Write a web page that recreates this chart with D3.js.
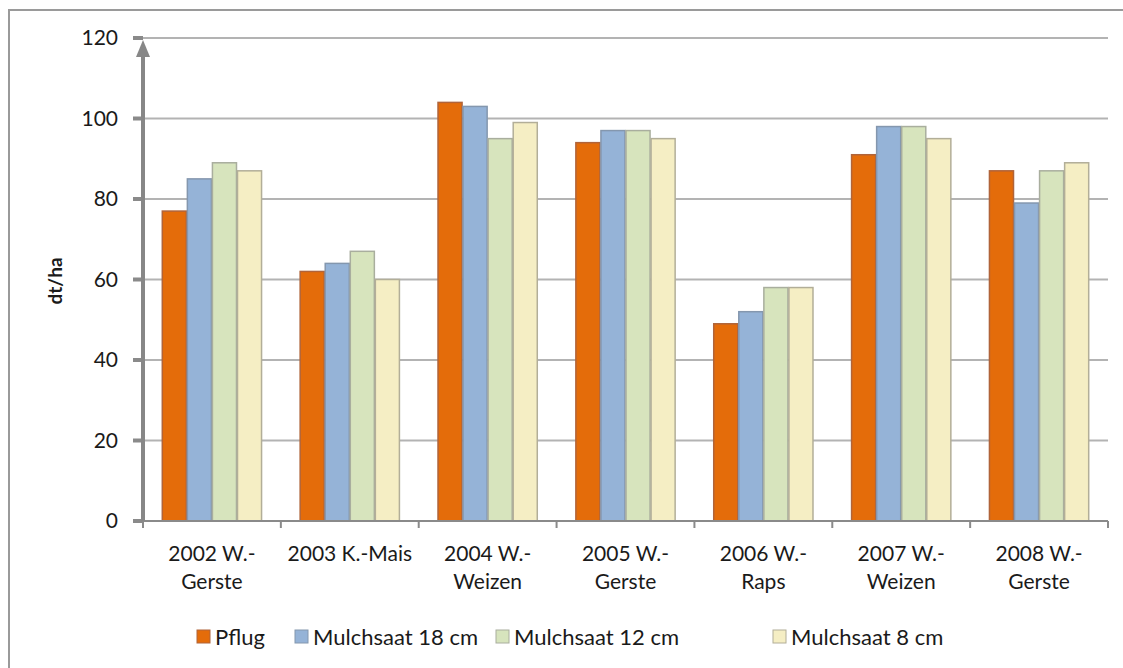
<!DOCTYPE html>
<html>
<head>
<meta charset="utf-8">
<script src="https://cdn.jsdelivr.net/npm/d3@7"></script>
<style>
  body { margin: 0; background: #fff; }
  text { font-family: Lato, "Open Sans", sans-serif; fill: #1a1a1a; }
</style>
</head>
<body>
<div id="chart"></div>
<script>
// data
var categories = [
  ["2002 W.-", "Gerste"],
  ["2003 K.-Mais"],
  ["2004 W.-", "Weizen"],
  ["2005 W.-", "Gerste"],
  ["2006 W.-", "Raps"],
  ["2007 W.-", "Weizen"],
  ["2008 W.-", "Gerste"]
];
var seriesNames = ["Pflug", "Mulchsaat 18 cm", "Mulchsaat 12 cm", "Mulchsaat 8 cm"];
var pflug = [77, 62, 104, 94, 49, 91, 87];
var mulch18 = [85, 64, 103, 97, 52, 98, 79];
var mulch12 = [89, 67, 95, 97, 58, 98, 87];
var mulch8 = [87, 60, 99, 95, 58, 95, 89];
var yTicks = [0, 20, 40, 60, 80, 100, 120];

var colors = ["#E46C0A", "#95B3D7", "#D7E4BD", "#F5EEC4"];
var strokes = ["#B0643A", "#8497AE", "#A9AE9E", "#B2AE98"];

var svgWidth = 1123;
var svgHeight = 668;
var margin = { top: 38, right: 15, bottom: 147, left: 143 };
var width = svgWidth - margin.left - margin.right;
var height = svgHeight - margin.top - margin.bottom;

var svg = d3.select("#chart")
  .append("svg")
  .attr("width", svgWidth)
  .attr("height", svgHeight);

// outer frame (only left/top edges show)
svg.append("rect")
  .attr("x", 9).attr("y", 10)
  .attr("width", svgWidth + 10).attr("height", svgHeight + 10)
  .attr("fill", "none")
  .attr("stroke", "#9a9a9a")
  .attr("stroke-width", 2);

var chartGroup = svg.append("g")
  .attr("transform", `translate(${margin.left}, ${margin.top})`);

var catIdx = d3.range(categories.length);
var x0 = d3.scaleBand()
  .domain(catIdx)
  .range([0, width])
  .paddingInner(0)
  .paddingOuter(0);

var x1 = d3.scaleBand()
  .domain(d3.range(seriesNames.length))
  .range([0, x0.bandwidth()])
  .paddingOuter(0.75)
  .paddingInner(0);

var y = d3.scaleLinear()
  .domain([0, 120])
  .range([height, 0]);

// gridlines
chartGroup.append("g")
  .selectAll("line")
  .data(yTicks.filter(d => d > 0))
  .enter()
  .append("line")
  .attr("x1", 0)
  .attr("x2", width)
  .attr("y1", d => y(d))
  .attr("y2", d => y(d))
  .attr("stroke", "#b3b3b3")
  .attr("stroke-width", 2);

// bars
var table = [pflug, mulch18, mulch12, mulch8];
var groups = chartGroup.selectAll(".cat")
  .data(catIdx)
  .enter()
  .append("g")
  .attr("class", "cat")
  .attr("transform", d => `translate(${x0(d)}, 0)`);

groups.selectAll("rect")
  .data(c => table.map((s, i) => ({ s: i, v: s[c] })))
  .enter()
  .append("rect")
  .attr("x", d => x1(d.s) + 0.5)
  .attr("y", d => y(d.v))
  .attr("width", x1.bandwidth() - 1)
  .attr("height", d => height - y(d.v))
  .attr("fill", d => colors[d.s])
  .attr("stroke", d => strokes[d.s])
  .attr("stroke-width", 1.5);

// x axis
var xAxis = chartGroup.append("g")
  .attr("transform", `translate(0, ${height})`);
xAxis.append("line")
  .attr("x1", 0).attr("x2", width)
  .attr("stroke", "#8a8a8a").attr("stroke-width", 2);
xAxis.selectAll(".xt")
  .data(d3.range(categories.length + 1))
  .enter()
  .append("line")
  .attr("x1", d => d === categories.length ? width : x0(d))
  .attr("x2", d => d === categories.length ? width : x0(d))
  .attr("y1", 0).attr("y2", 7)
  .attr("stroke", "#8a8a8a").attr("stroke-width", 2);

var labels = xAxis.selectAll(".xl")
  .data(catIdx)
  .enter()
  .append("text")
  .attr("text-anchor", "middle")
  .attr("font-size", "21px")
  .attr("fill", "#1a1a1a");
labels.each(function(d) {
  var t = d3.select(this);
  categories[d].forEach(function(line, i) {
    t.append("tspan")
      .attr("x", x0(d) + x0.bandwidth() / 2)
      .attr("y", 40 + i * 28)
      .text(line);
  });
});

// y axis with arrow
var yAxis = chartGroup.append("g");
yAxis.selectAll(".yt")
  .data(yTicks)
  .enter()
  .append("rect")
  .attr("x", -10).attr("y", d => y(d) - 2)
  .attr("width", 10).attr("height", 4)
  .attr("fill", "#8a8a8a");
yAxis.append("line")
  .attr("x1", 0).attr("x2", 0)
  .attr("y1", height).attr("y2", 16)
  .attr("stroke", "#878787").attr("stroke-width", 4);
yAxis.append("path")
  .attr("d", "M0,2 L-7,19 L7,19 Z")
  .attr("fill", "#878787");
yAxis.selectAll(".yl")
  .data(yTicks)
  .enter()
  .append("text")
  .attr("x", -25)
  .attr("y", d => y(d))
  .attr("dy", "0.35em")
  .attr("text-anchor", "end")
  .attr("font-size", "21px")
  .text(d => d);

// y label
chartGroup.append("text")
  .attr("transform", `translate(${55 - margin.left}, ${281 - margin.top}) rotate(-90)`)
  .attr("text-anchor", "middle")
  .attr("dy", "0.35em")
  .attr("font-size", "19px")
  .attr("font-weight", "bold")
  .text("dt/ha");

// legend
var legendX = [197, 295, 496, 773];
var legend = svg.append("g")
  .selectAll("g")
  .data(seriesNames)
  .enter()
  .append("g")
  .attr("transform", (d, i) => `translate(${legendX[i]}, 637)`);
legend.append("rect")
  .attr("x", 0).attr("y", -7)
  .attr("width", 13).attr("height", 13)
  .attr("fill", (d, i) => colors[i])
  .attr("stroke", (d, i) => strokes[i])
  .attr("stroke-width", 1);
legend.append("text")
  .attr("x", 18)
  .attr("y", 0)
  .attr("dy", "0.35em")
  .attr("font-size", "22px")
  .text(d => d);
</script>
</body>
</html>
